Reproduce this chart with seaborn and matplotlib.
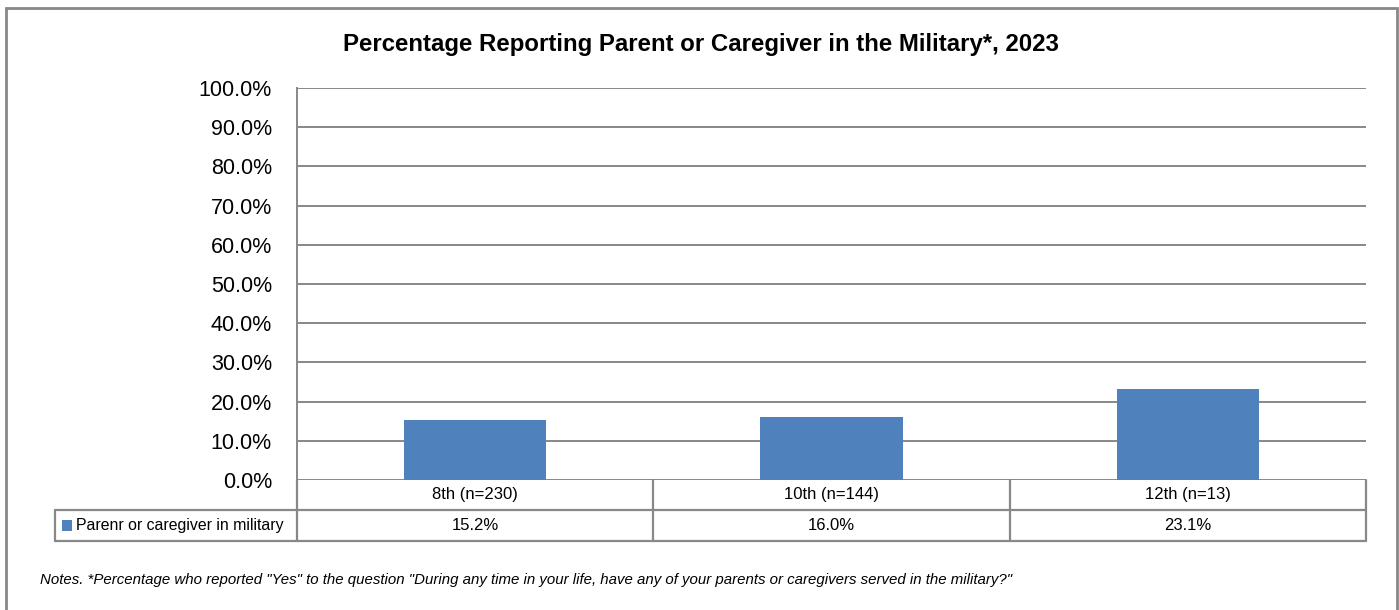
import numpy as np
import matplotlib
matplotlib.use("Agg")
import matplotlib.pyplot as plt
import matplotlib.transforms as mtransforms
from matplotlib.patches import Rectangle
from matplotlib.ticker import FuncFormatter, MultipleLocator
import seaborn as sns

grades = ["8th (n=230)", "10th (n=144)", "12th (n=13)"]
pct_military = [15.2, 16.0, 23.1]
series_name = "Parenr or caregiver in military"
title = "Percentage Reporting Parent or Caregiver in the Military*, 2023"
note = ('Notes. *Percentage who reported "Yes" to the question "During any time in your life, '
        'have any of your parents or caregivers served in the military?"')

sns.set_theme(style="white")
plt.rcParams["font.family"] = ["Liberation Sans", "DejaVu Sans"]
plt.rcParams["text.color"] = "black"

BAR = "#4F81BD"
GRID = "#888888"

fig = plt.figure(figsize=(13.99, 6.10), dpi=100)
ax = fig.add_axes([297 / 1399, 1 - 480 / 610, 1069 / 1399, 392 / 610])

sns.barplot(x=grades, y=pct_military, color=BAR, saturation=1, width=0.4,
            edgecolor="none", linewidth=0, ax=ax)

ax.set_ylim(0, 100)
ax.set_xlim(-0.5, len(grades) - 0.5)
ax.yaxis.set_major_locator(MultipleLocator(10))
ax.yaxis.set_major_formatter(FuncFormatter(lambda v, _: f"{v:.1f}%"))
ax.tick_params(axis="y", labelsize=15.5, pad=18, length=0, colors="black")
ax.set_xticks([])
ax.grid(axis="y", color=GRID, linewidth=1.4)
ax.set_axisbelow(True)
for side in ["top", "right", "bottom"]:
    ax.spines[side].set_visible(False)
ax.spines["left"].set_color(GRID)
ax.spines["left"].set_linewidth(1.4)

# data table under the plot
trans = mtransforms.blended_transform_factory(ax.transData, ax.transAxes)
row1, row2 = -30 / 392, -61 / 392
leg_left = -242 / 1069
n = len(grades)
lk = dict(color=GRID, linewidth=1.6, clip_on=False)
ax.plot([-0.5, n - 0.5], [row1, row1], transform=trans, **lk)
ax.plot([leg_left, 1], [row2, row2], transform=ax.transAxes, **lk)
ax.plot([leg_left, 0], [row1, row1], transform=ax.transAxes, **lk)
ax.plot([leg_left, leg_left], [row1, row2], transform=ax.transAxes, **lk)
ax.plot([0, 0], [0, row2], transform=ax.transAxes, **lk)
for i in range(n):
    ax.plot([i + 0.5, i + 0.5], [0, row2], transform=trans, **lk)
    ax.text(i, row1 / 2, grades[i], transform=trans, ha="center", va="center", fontsize=12)
    ax.text(i, (row1 + row2) / 2, f"{pct_military[i]:.1f}%", transform=trans,
            ha="center", va="center", fontsize=12)

ax.add_patch(Rectangle((leg_left + 7 / 1069, (row1 + row2) / 2 - 5.5 / 392), 10 / 1069, 11 / 392,
                       transform=ax.transAxes, facecolor=BAR, edgecolor="none", clip_on=False))
ax.text(leg_left + 21 / 1069, (row1 + row2) / 2, series_name, transform=ax.transAxes,
        ha="left", va="center", fontsize=11.4)

fig.text(0.501, 1 - 45 / 610, title, ha="center", va="center", fontsize=17.3, fontweight="bold")
fig.text(40 / 1399, 1 - 580 / 610, note, ha="left", va="center", fontsize=10.8, style="italic")

fig.patches.append(Rectangle((6 / 1399, -0.05), 1391 / 1399, 1.05 - 8 / 610, transform=fig.transFigure,
                             facecolor="none", edgecolor=GRID, linewidth=2))

fig.savefig("out.png", dpi=100)
